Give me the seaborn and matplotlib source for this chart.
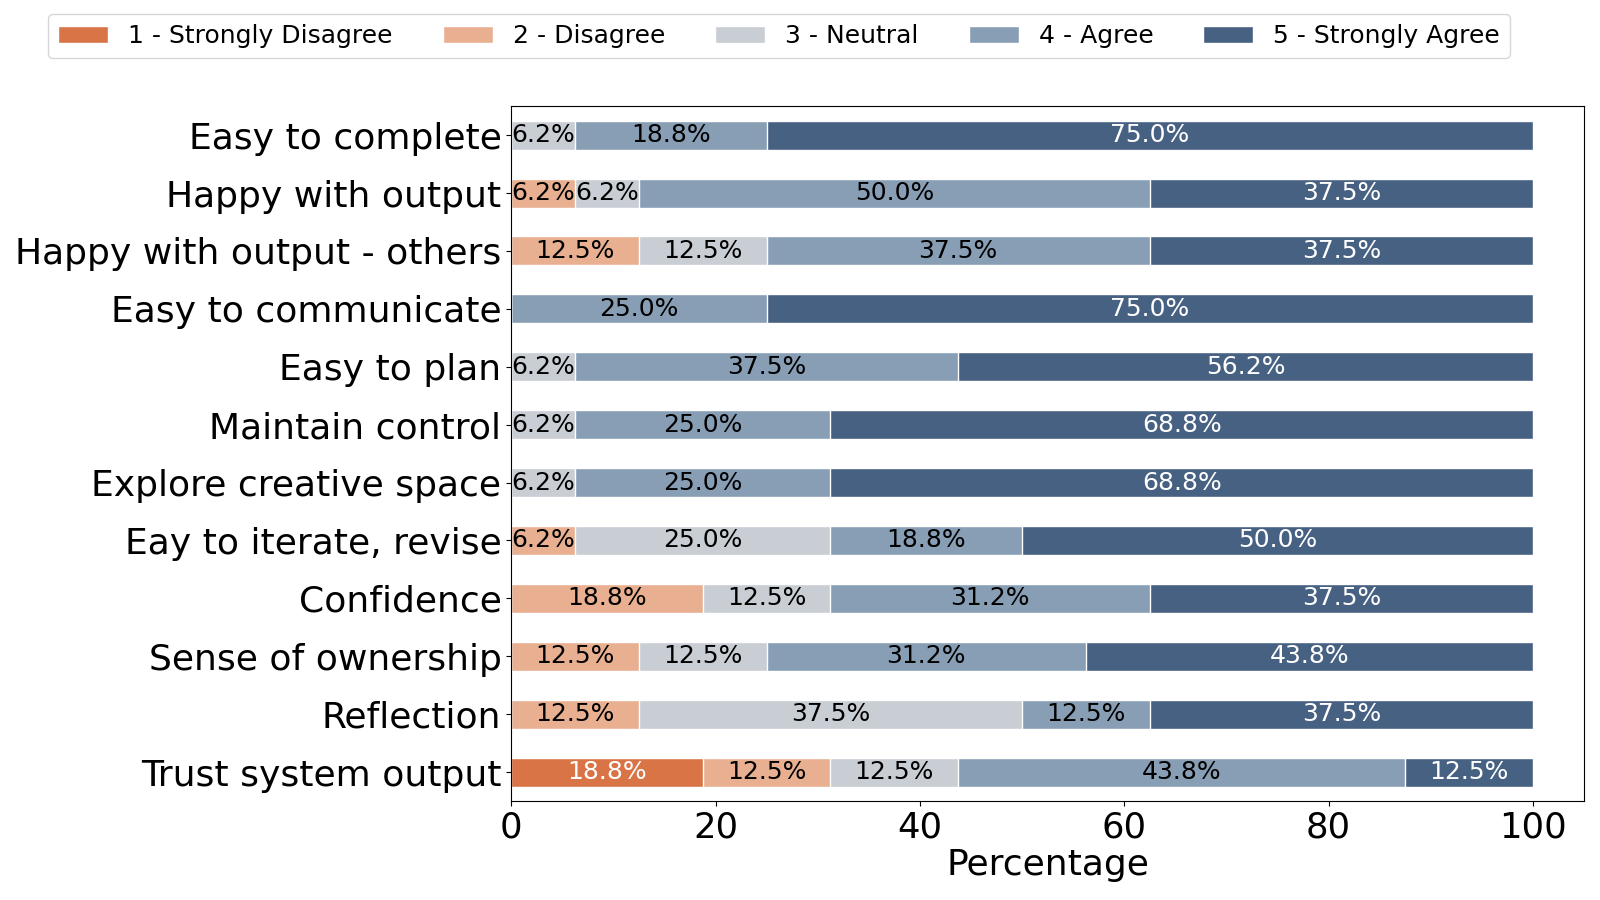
import numpy as np
import pandas as pd
import matplotlib
matplotlib.use("Agg")
import matplotlib.pyplot as plt
import seaborn as sns
from matplotlib.patches import Patch

# survey statements (top to bottom)
questions = [
    "Easy to complete",
    "Happy with output",
    "Happy with output - others",
    "Easy to communicate",
    "Easy to plan",
    "Maintain control",
    "Explore creative space",
    "Eay to iterate, revise",
    "Confidence",
    "Sense of ownership",
    "Reflection",
    "Trust system output",
]

levels = ["1 - Strongly Disagree", "2 - Disagree", "3 - Neutral",
          "4 - Agree", "5 - Strongly Agree"]

# percentage of answers per level
strongly_disagree = [0, 0, 0, 0, 0, 0, 0, 0, 0, 0, 0, 18.75]
disagree = [0, 6.25, 12.5, 0, 0, 0, 0, 6.25, 18.75, 12.5, 12.5, 12.5]
neutral = [6.25, 6.25, 12.5, 0, 6.25, 6.25, 6.25, 25, 12.5, 12.5, 37.5, 12.5]
agree = [18.75, 50, 37.5, 25, 37.5, 25, 25, 18.75, 31.25, 31.25, 12.5, 43.75]
strongly_agree = [75, 37.5, 37.5, 75, 56.25, 68.75, 68.75, 50, 37.5, 43.75, 37.5, 12.5]

colors = ["#d97447", "#e8b091", "#c9cdd4", "#889eb4", "#476183"]
text_colors = ["white", "black", "black", "black", "white"]

df = pd.DataFrame({
    "question": questions,
    levels[0]: strongly_disagree,
    levels[1]: disagree,
    levels[2]: neutral,
    levels[3]: agree,
    levels[4]: strongly_agree,
})

sns.set_style("ticks")
plt.rcParams["font.family"] = ["DejaVu Sans"]
plt.rcParams["text.color"] = "black"
plt.rcParams["axes.labelcolor"] = "black"
plt.rcParams["xtick.color"] = "black"
plt.rcParams["ytick.color"] = "black"

fig, ax = plt.subplots(figsize=(16, 9), dpi=100)
fig.subplots_adjust(left=0.3195, right=0.990, top=0.882, bottom=0.110)

# stacked bars: draw cumulative totals from the last level backwards
cum = df[levels].cumsum(axis=1)
for i in reversed(range(len(levels))):
    sns.barplot(x=cum[levels[i]], y=df["question"], orient="h",
                color=colors[i], width=0.5, saturation=1, ax=ax)

# percentage labels centered in each segment
for row in range(len(df)):
    start = 0
    for i, lev in enumerate(levels):
        val = df.loc[row, lev]
        if val > 0:
            ax.text(start + val / 2, row, f"{val:.1f}%", ha="center", va="center",
                    fontsize=18, color=text_colors[i])
        start += val

ax.set_xlim(0, 105)
ax.set_xticks([0, 20, 40, 60, 80, 100])
ax.set_xlabel("Percentage", fontsize=26, labelpad=2)
ax.set_ylabel("")
ax.tick_params(axis="x", labelsize=25.5)
ax.tick_params(axis="y", labelsize=26)
for sp in ax.spines.values():
    sp.set_color("black")
    sp.set_visible(True)

handles = [Patch(facecolor=c, label=l) for c, l in zip(colors, levels)]
fig.legend(handles=handles, loc="upper center", bbox_to_anchor=(0.487, 0.998),
           ncol=5, fontsize=18, columnspacing=2.0, handlelength=2.0)

fig.savefig("out.png", dpi=100)
